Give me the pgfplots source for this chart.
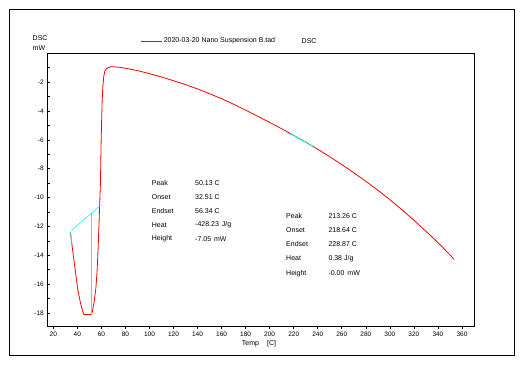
\documentclass[border=0pt]{standalone}
\usepackage{pgfplots}
\pgfplotsset{compat=1.18}
\usepackage{fontspec}
\setmainfont{Liberation Sans}
\definecolor{dscred}{RGB}{255,0,0}
\definecolor{dsccyan}{RGB}{0,255,255}
\begin{document}
\begin{tikzpicture}[x=1pt,y=1pt]
\useasboundingbox (0,0) rectangle (525,365);
\draw[line width=1pt] (9.5,9.5) rectangle (514,355.5);
\begin{axis}[
  at={(47.3pt,39pt)}, anchor=south west, scale only axis,
  width=426.7pt, height=272.7pt,
  xmin=15, xmax=370, ymin=-18.9, ymax=0,
  xtick={20,40,...,360}, ytick={-18,-16,...,-2}, minor ytick={-17,-15,...,-1},
  xtick pos=lower, ytick pos=left,
  xtick align=outside, ytick align=inside,
  major tick length=3pt, minor tick length=3pt,
  tick style={black, line width=0.6pt},
  axis line style={line width=0.8pt},
  /pgf/number format/assume math mode=true,
  ticklabel style={font=\fontsize{6.5}{7}\selectfont},
  xticklabel style={yshift=1pt},
  legend style={draw=none, fill=none, inner sep=0pt,
    at={(axis description cs:0.218,1.045)}, anchor=west,
    font=\fontsize{7}{8}\selectfont, nodes={inner sep=1.5pt}},
  legend image code/.code={\draw[#1] (0pt,0pt) -- (21pt,0pt);},
  clip=false,
]
\addplot[dscred, line width=0.8pt, line join=round] coordinates {
(33.8,-12.4) (34.3,-12.45) (35.7,-13.4) (37.1,-14.3) (38.8,-15.4) (40.4,-16.4)
(42.6,-17.3) (44.5,-17.9) (45.4,-18.1) (51.5,-18.1) (52.5,-17.9) (54.2,-17.1)
(55.5,-16.2) (56.5,-15.0) (57.3,-13.5) (58.1,-11.6) (59.2,-9.0) (59.8,-6.05)
(60.6,-3.4) (61.2,-2.3) (62.0,-1.57) (63.0,-1.2) (64.8,-1.02) (67.5,-0.94)
(70,-0.93) (75,-0.97) (80,-1.03) (90,-1.20) (100,-1.41) (110,-1.64) (120,-1.90)
(130,-2.17) (140,-2.47) (150,-2.80) (160,-3.15) (170,-3.53) (180,-3.94)
(190,-4.36) (200,-4.79) (210,-5.23) (220,-5.69) (230,-6.16) (240,-6.65)
(250,-7.17) (260,-7.71) (270,-8.28) (280,-8.87) (290,-9.49) (300,-10.14)
(310,-10.84) (320,-11.57) (330,-12.33) (340,-13.12) (350,-13.97) (353.3,-14.27)
};
\addlegendentry{2020-03-20 Nano Suspension B.tad}
\addplot[dsccyan, line width=0.6pt, forget plot] coordinates {(34.3,-12.4) (35.7,-13.3)};
\addplot[dsccyan, line width=0.6pt, forget plot] coordinates {(34.6,-12.3) (58.6,-10.6)};
\addplot[dsccyan, line width=0.6pt, forget plot] coordinates {(52,-11.05) (52,-18.1)};
\addplot[dsccyan, line width=0.8pt, forget plot] coordinates {(214,-5.51) (220,-5.69) (230,-6.16) (236.1,-6.46)};
\end{axis}
\begin{scope}[every node/.style={font=\fontsize{7}{8}\selectfont, inner sep=0pt, anchor=west}]
\node at (301.5,324) {DSC};
\node at (32.5,327.3) {DSC};
\node at (32.5,316.7) {mW};
\node[anchor=center] at (259,21.7) {Temp\hspace{8pt}[C]};
\node at (151.7,182.3) {Peak};
\node at (151.7,168.3) {Onset};
\node at (151.7,154.3) {Endset};
\node at (151.7,140) {Heat};
\node at (151.7,126) {Height};
\node at (195,182.3) {50.13 C};
\node at (195,168.3) {32.51 C};
\node at (195,154.3) {56.34 C};
\node at (195,140) {-428.23\hspace{3pt}J/g};
\node at (195,126) {-7.05\hspace{3pt}mW};
\node at (286,149) {Peak};
\node at (286,135) {Onset};
\node at (286,121) {Endset};
\node at (286,106.5) {Heat};
\node at (286,91.5) {Height};
\node at (328.3,149) {213.26 C};
\node at (328.3,135) {218.64 C};
\node at (328.3,121) {228.87 C};
\node at (328.3,106.5) {0.38 J/g};
\node at (328.3,91.5) {-0.00\hspace{3pt}mW};
\end{scope}
\end{tikzpicture}
\end{document}
